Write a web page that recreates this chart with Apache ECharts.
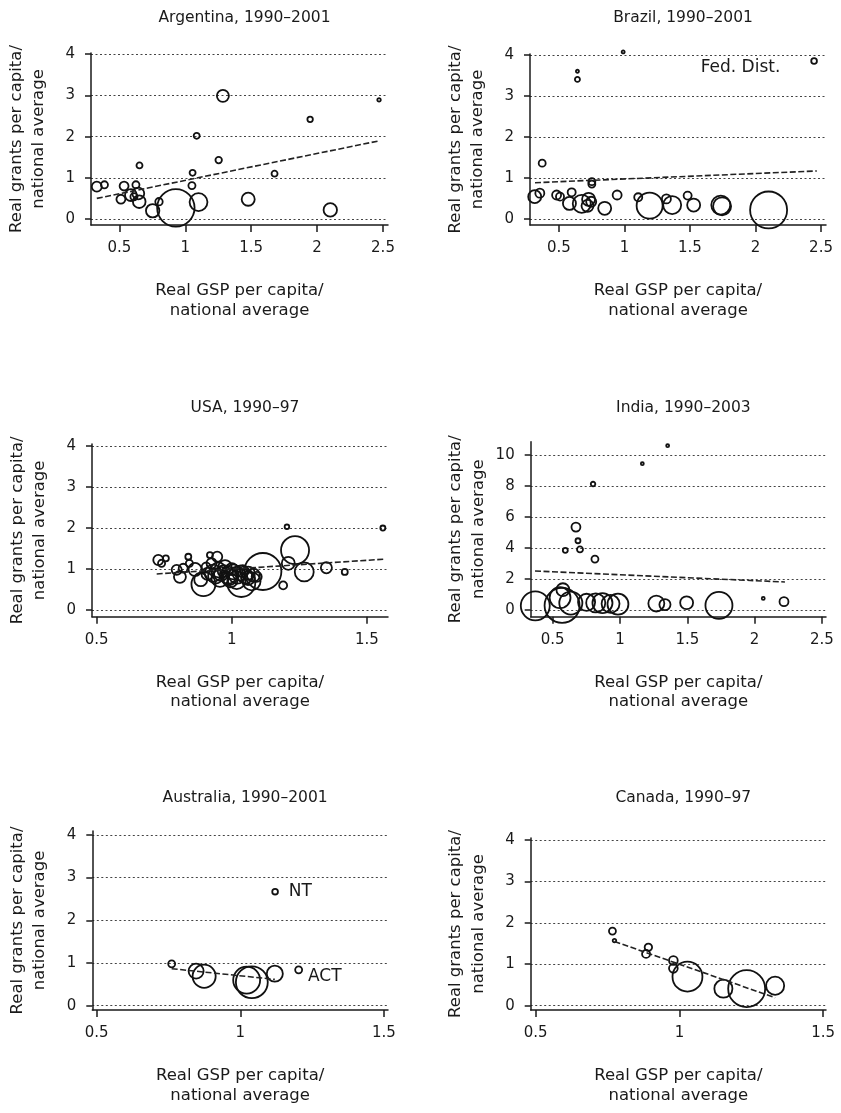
<!DOCTYPE html>
<html><head><meta charset="utf-8">
<script src="https://cdn.jsdelivr.net/npm/echarts@6/dist/echarts.min.js"></script>
<style>html,body{margin:0;padding:0;background:#fff}#c{width:841px;height:1113px}</style>
</head><body><div id="c"></div>
<script>
// ---------- tick labels ----------
const xTicksWide = [0.5, 1, 1.5, 2, 2.5];
const xTicksNarrow = [0.5, 1, 1.5];
const yTicks = [0, 1, 2, 3, 4];
const yTicksIndia = [0, 2, 4, 6, 8, 10];
const xName = 'Real GSP per capita/\nnational average';
const yName = 'Real grants per capita/\nnational average';

// ---------- Argentina ----------
const argX = [0.328,0.386,0.535,0.511,0.625,0.652,0.587,0.643,0.650,0.610,0.800,0.752,0.928,1.100,1.050,1.055,1.086,1.253,1.285,1.477,1.677,1.947,2.470,2.100];
const argY = [0.785,0.83,0.80,0.48,0.83,1.30,0.58,0.62,0.42,0.54,0.42,0.20,0.27,0.41,0.81,1.12,2.02,1.43,2.99,0.48,1.10,2.42,2.89,0.22];
const argPop = [1.0,0.5,0.8,0.8,0.5,0.36,1.4,1.4,1.6,0.5,0.55,1.8,14,3.2,0.5,0.36,0.36,0.42,1.45,1.7,0.36,0.3,0.12,1.8];
const argFitX = [0.328, 2.475], argFitY = [0.50, 1.90];

// ---------- Brazil ----------
const braX = [0.99,0.641,0.641,0.372,0.751,0.751,0.315,0.354,0.482,0.508,0.597,0.58,0.674,0.726,0.718,0.746,0.849,0.944,1.105,1.192,1.32,1.364,1.482,1.528,1.735,1.745,2.10,2.447];
const braY = [4.07,3.60,3.40,1.36,0.91,0.85,0.545,0.63,0.585,0.545,0.65,0.38,0.37,0.48,0.32,0.42,0.26,0.585,0.53,0.325,0.49,0.34,0.57,0.34,0.34,0.31,0.22,3.85];
const braPop = [0.25,0.25,0.7,1.36,1.36,1.36,4.7,2.25,2.25,1.8,1.8,4.7,9,4.7,4,2.8,4.7,2.25,1.8,18.8,2.25,9,1.8,4.7,10,9,38,0.9];
const braNames = ['','','','','','','','','','','','','','','','','','','','','','','','','','','','Fed. Dist.'];
const braFitX = [0.317, 2.468], braFitY = [0.885, 1.17];

// ---------- USA ----------
const usaX = [0.728,0.740,0.756,0.796,0.808,0.820,0.839,0.843,0.864,0.895,0.919,0.925,0.946,0.931,0.950,0.956,0.975,0.987,1.005,1.018,1.030,1.035,1.061,1.073,1.092,1.115,1.190,1.234,1.209,1.268,1.350,1.418,1.204,1.559,0.96,0.99,1.00,1.05,1.08,0.94,1.02,0.97,1.06,0.91,1.04,0.995,0.885,0.905];
const usaY = [1.22,1.14,1.26,0.98,0.81,1.02,1.30,1.14,0.99,0.63,1.34,1.14,1.30,0.90,0.98,0.77,1.06,0.85,0.93,0.73,0.90,0.66,0.90,0.70,0.81,0.94,0.60,1.46,1.14,0.93,1.03,0.93,2.03,2.00,0.88,0.80,1.00,0.83,0.85,0.83,0.85,0.95,0.78,0.88,0.95,0.72,0.74,1.05];
const usaPop = [2.4,1.2,0.85,2.4,3.4,1.9,0.85,1.2,4.0,13.6,0.85,2.4,2.4,6.8,5.3,6.8,4.0,6.8,5.3,7.7,5.3,18.6,4.0,7.7,2.4,32.4,1.5,18.6,4.0,8.5,2.9,0.85,0.5,0.6,4.6,6.0,3.4,5.3,4.0,5.3,6.8,3.4,4.6,3.4,3.4,4.6,4.0,1.9];
const usaFitX = [0.722, 1.565], usaFitY = [0.88, 1.24];

// ---------- India ----------
const indX = [1.354,1.166,0.80,0.673,0.688,0.594,0.703,0.814,2.064,2.218,0.371,0.57,0.576,0.555,0.635,0.752,0.82,0.87,0.93,0.985,1.27,1.334,1.495,1.735];
const indY = [10.6,9.44,8.13,5.35,4.47,3.85,3.91,3.29,0.75,0.54,0.27,0.30,1.31,0.80,0.45,0.50,0.46,0.45,0.40,0.38,0.42,0.35,0.47,0.30];
const indPop = [1.2,1.2,2.8,11,3.4,3.4,4.9,6.7,1.2,11,115,168,23,60,73,40,50,55,44,60,35,17,23,100];
const indFitX = [0.369, 2.225], indFitY = [2.52, 1.81];

// ---------- Australia ----------
const ausX = [0.761,0.846,0.874,1.022,1.040,1.120,1.203,1.121];
const ausY = [0.98,0.81,0.69,0.60,0.55,0.75,0.84,2.67];
const ausPop = [0.3,1.4,3.3,4.5,6.3,1.6,0.3,0.2];
const ausNames = ['','','','','','','ACT','NT'];
const ausFitX = [0.761, 1.12], ausFitY = [0.867, 0.617];

// ---------- Canada ----------
const canX = [0.767,0.774,0.892,0.884,0.979,0.979,1.028,1.153,1.234,1.333];
const canY = [1.80,1.57,1.41,1.25,1.09,0.90,0.70,0.41,0.41,0.48];
const canPop = [0.4,0.1,0.46,0.53,0.63,0.63,7.4,2.7,11.3,2.7];
const canFitX = [0.774, 1.333], canFitY = [1.55, 0.19];

// ---------- layout / style ----------
const FONT = 'DejaVu Sans';
const INK = '#1a1a1a';
const labelStyles = {
  'Fed. Dist.': {position: 'left', distance: 30, offset: [0, 7]},
  'NT': {position: 'right', distance: 10, offset: [0, 0]},
  'ACT': {position: 'right', distance: 5, offset: [0, 7]}
};

const panels = [
  {title: 'Argentina, 1990–2001', x: argX, y: argY, pop: argPop, names: null, fx: argFitX, fy: argFitY, k: 10,
   grid: {left: 91, top: 53, width: 297, height: 172}, xr: [0.284, 2.538], yr: [-0.146, 4.03], xt: xTicksWide, yt: yTicks},
  {title: 'Brazil, 1990–2001', x: braX, y: braY, pop: braPop, names: braNames, fx: braFitX, fy: braFitY, k: 6,
   grid: {left: 530, top: 54, width: 296, height: 171}, xr: [0.279, 2.538], yr: [-0.146, 4.02], xt: xTicksWide, yt: yTicks},
  {title: 'USA, 1990–97', x: usaX, y: usaY, pop: usaPop, names: null, fx: usaFitX, fy: usaFitY, k: 6.5,
   grid: {left: 92, top: 444, width: 296, height: 172.7}, xr: [0.4826, 1.578], yr: [-0.163, 4.05], xt: xTicksNarrow, yt: yTicks},
  {title: 'India, 1990–2003', x: indX, y: indY, pop: indPop, names: null, fx: indFitX, fy: indFitY, k: 2.7,
   grid: {left: 530.7, top: 441.7, width: 295.3, height: 175}, xr: [0.337, 2.53], yr: [-0.43, 10.86], xt: xTicksWide, yt: yTicksIndia},
  {title: 'Australia, 1990–2001', x: ausX, y: ausY, pop: ausPop, names: ausNames, fx: ausFitX, fy: ausFitY, k: 12.7,
   grid: {left: 92.3, top: 831, width: 295.7, height: 179}, xr: [0.4847, 1.514], yr: [-0.1, 4.09], xt: xTicksNarrow, yt: yTicks},
  {title: 'Canada, 1990–97', x: canX, y: canY, pop: canPop, names: null, fx: canFitX, fy: canFitY, k: 11,
   grid: {left: 530.7, top: 838, width: 295.3, height: 172}, xr: [0.4826, 1.51], yr: [-0.106, 4.05], xt: xTicksNarrow, yt: yTicks}
];
const titleTops = [5, 5, 395, 395, 785, 785];

const option = {
  animation: false,
  backgroundColor: '#fff',
  title: [], grid: [], xAxis: [], yAxis: [], series: []
};

panels.forEach((p, i) => {
  const g = p.grid;
  option.title.push({
    text: p.title, left: g.left + g.width / 2, top: titleTops[i], textAlign: 'center',
    textStyle: {fontFamily: FONT, fontSize: 15.5, fontWeight: 'normal', color: INK}
  });
  option.grid.push({left: g.left, top: g.top, width: g.width, height: g.height, containLabel: false, outerBoundsMode: 'none'});
  option.xAxis.push({
    type: 'value', gridIndex: i, min: p.xr[0], max: p.xr[1],
    name: xName, nameLocation: 'middle', nameGap: 56,
    nameTextStyle: {fontFamily: FONT, fontSize: 16.5, color: INK, lineHeight: 19.5, align: 'center', verticalAlign: 'top'},
    axisLine: {show: true, onZero: false, lineStyle: {color: INK, width: 1.5}},
    axisTick: {show: true, length: 7, inside: false, customValues: p.xt, lineStyle: {color: INK, width: 1.5}},
    axisLabel: {show: true, customValues: p.xt, margin: 16, fontFamily: FONT, fontSize: 15, color: INK},
    splitLine: {show: false}
  });
  option.yAxis.push({
    type: 'value', gridIndex: i, min: p.yr[0], max: p.yr[1],
    name: yName, nameLocation: 'middle', nameGap: 41, nameRotate: 90,
    nameTextStyle: {fontFamily: FONT, fontSize: 16.5, color: INK, lineHeight: 22.5},
    axisLine: {show: true, onZero: false, lineStyle: {color: INK, width: 1.5}},
    axisTick: {show: true, length: 6, inside: false, customValues: p.yt, lineStyle: {color: INK, width: 1.5}},
    axisLabel: {show: true, customValues: p.yt, margin: 16, fontFamily: FONT, fontSize: 15, color: INK},
    splitLine: {show: true, lineStyle: {color: '#444', width: 1, type: [2, 2.5]}}
  });
  const k = p.k;
  const data = p.x.map((xv, j) => {
    const item = {value: [xv, p.y[j], p.pop[j]]};
    const nm = p.names ? p.names[j] : '';
    if (nm) {
      const ls = labelStyles[nm];
      item.name = nm;
      item.label = {show: true, formatter: nm, position: ls.position, distance: ls.distance, offset: ls.offset,
        fontFamily: FONT, fontSize: 17, color: INK};
    }
    return item;
  });
  option.series.push({
    type: 'scatter', xAxisIndex: i, yAxisIndex: i, clip: false, z: 3,
    symbol: 'circle',
    symbolSize: v => k * Math.sqrt(v[2]),
    itemStyle: {color: 'rgba(0,0,0,0)', borderColor: '#111', borderWidth: 1.8, opacity: 1},
    emphasis: {disabled: true},
    label: {show: false},
    data: data
  });
  option.series.push({
    type: 'line', xAxisIndex: i, yAxisIndex: i, symbol: 'none', z: 4, silent: true,
    lineStyle: {color: '#222', width: 1.6, type: [6, 2.5]},
    data: p.fx.map((xv, j) => [xv, p.fy[j]])
  });
});

const chart = echarts.init(document.getElementById('c'), null, {renderer: 'canvas'});
chart.setOption(option);
</script>
</body></html>
